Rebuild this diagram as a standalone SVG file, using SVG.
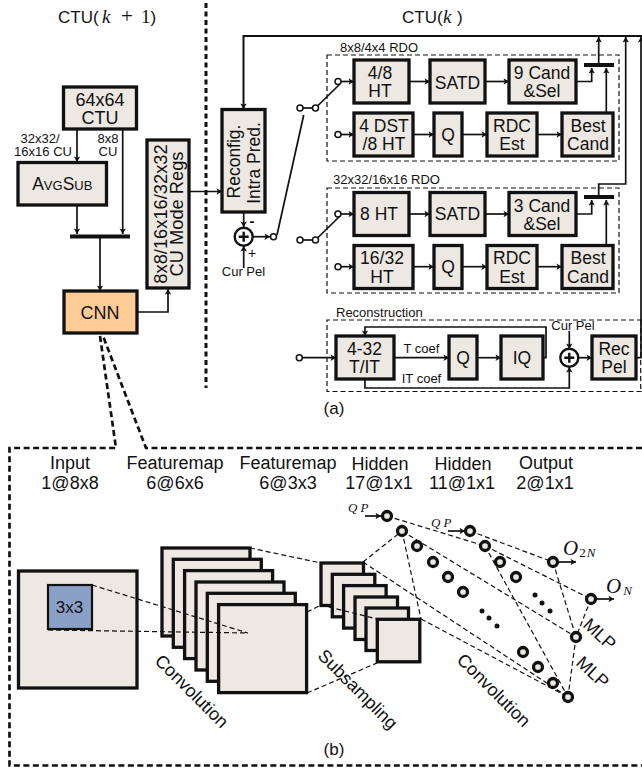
<svg xmlns="http://www.w3.org/2000/svg" width="642" height="770" viewBox="0 0 642 770">
<style>
text{font-family:"Liberation Sans",Arial,sans-serif;fill:#111;text-anchor:middle}
.b{fill:#ede8e1;stroke:#111;stroke-width:3.300}
.t{font-size:17.500px}
.h{font-size:18px}
.s{font-size:13px}
.m{font-family:"Liberation Serif","Times New Roman",serif;font-style:italic}
.r{font-family:"Liberation Serif","Times New Roman",serif}
.l{fill:none;stroke:#111;stroke-width:1.700}
.a{marker-end:url(#ah)}
.bar{fill:#111}
.d{fill:none;stroke:#111;stroke-width:1.200;stroke-dasharray:5 3}
.D{fill:none;stroke:#111;stroke-width:2.700;stroke-dasharray:6 3.500}
.sw{fill:#fff;stroke:#111;stroke-width:1.500}
.n{fill:#ede8e1;stroke:#111;stroke-width:3.300}
.k{fill:#111}
</style>
<defs>
<marker id="ah" markerUnits="userSpaceOnUse" markerWidth="8" markerHeight="8" refX="6" refY="4" orient="auto"><path d="M0.500 0.800L6 4L0.500 7.200L1.800 4Z" fill="#111"/></marker>
</defs>
<rect width="642" height="770" fill="#fff"/>

<g id="labels">
<text y="23" style="text-anchor:start;font-size:17px"><tspan x="58">CTU(</tspan><tspan class="m" x="102" style="font-size:19px">k</tspan><tspan class="r" x="121" style="font-size:21px">+</tspan><tspan class="r" x="141" style="font-size:19px">1</tspan><tspan x="150.500">)</tspan></text>
<text y="23" style="text-anchor:start;font-size:17px"><tspan x="402">CTU(</tspan><tspan class="m" x="443" style="font-size:19px">k</tspan><tspan x="457">)</tspan></text>
<text x="340" y="52" class="s" style="text-anchor:start">8x8/4x4 RDO</text>
<text x="333" y="184" class="s" style="text-anchor:start">32x32/16x16 RDO</text>
<text x="336" y="317" class="s" style="text-anchor:start">Reconstruction</text>
<text x="40" y="143" class="s">32x32/</text>
<text x="43" y="156" class="s">16x16 CU</text>
<text x="108" y="143" class="s">8x8</text>
<text x="108" y="156" class="s">CU</text>
<text x="243.500" y="276" class="s">Cur Pel</text>
<text x="252" y="258" style="font-size:14px">+</text>
<text x="252" y="226" style="font-size:15px;font-weight:bold">-</text>
<text x="573" y="330" class="s">Cur Pel</text>
<text x="421.500" y="353" class="s">T coef</text>
<text x="421.500" y="383" class="s">IT coef</text>
<text x="334" y="414" style="font-size:17px">(a)</text>
<text x="334" y="755" style="font-size:17px">(b)</text>
<text x="70" y="469" class="h">Input</text><text x="70" y="489" class="h">1@8x8</text>
<text x="175" y="469" class="h">Featuremap</text><text x="175" y="489" class="h">6@6x6</text>
<text x="288" y="469" class="h">Featuremap</text><text x="288" y="489" class="h">6@3x3</text>
<text x="380" y="470" class="h">Hidden</text><text x="379" y="489" class="h">17@1x1</text>
<text x="463" y="470" class="h">Hidden</text><text x="462" y="489" class="h">11@1x1</text>
<text x="546" y="469" class="h">Output</text><text x="545" y="489" class="h">2@1x1</text>
<text transform="translate(191,692) rotate(45)" y="5" class="h">Convolution</text>
<text transform="translate(357,690) rotate(45)" y="5" class="h">Subsampling</text>
<text transform="translate(493,691) rotate(45)" y="5" class="h">Convolution</text>
<text transform="translate(599,635) rotate(43)" y="5" class="h">MLP</text>
<text transform="translate(592,673) rotate(43)" y="5" class="h">MLP</text>
<text x="348" y="512" class="m" style="text-anchor:start;font-size:13px;letter-spacing:3px">QP</text>
<text x="431" y="527" class="m" style="text-anchor:start;font-size:13px;letter-spacing:3px">QP</text>
<text x="563" y="555" class="m" style="text-anchor:start;font-size:21px">O<tspan dx="1" dy="2" style="font-size:13px;letter-spacing:1px"><tspan class="r" style="font-style:normal">2</tspan>N</tspan></text>
<text x="606" y="593" class="m" style="text-anchor:start;font-size:21px">O<tspan dx="2" dy="2" style="font-size:13px">N</tspan></text>
</g>

<g id="region-borders">
<path class="D" style="stroke-dasharray:5 3.500;stroke-width:3" d="M206 3V388"/>
<path class="D" d="M100 336L116 448H9.500V765.500H642M642 448H146L103 336"/>
<rect class="d" x="327" y="55" width="292" height="106"/>
<rect class="d" x="327" y="188" width="292" height="105"/>
<path class="d" d="M642 320H327V391.500H642"/>
<path class="d" d="M640.700 320V391.500"/>
</g>

<g id="connectors">
<path class="l a" d="M77 129V162"/>
<path class="l a" d="M122.700 129V234"/>
<path class="l a" d="M77 205V234"/>
<path class="l a" d="M100 238V291"/>
<path class="l a" d="M137 312H168V289"/>
<path class="l a" d="M189 191.500H222"/>
<path class="l a" style="stroke-width:2" d="M642 36H243.500V109"/>
<path class="l a" d="M243.700 212V227"/>
<path class="l a" d="M243.700 268V246"/>
<path class="l a" d="M253 236.700H270"/>
<path class="l" d="M277 235L303.700 115"/>
<path class="l" d="M303 108H313"/>
<path class="l" d="M317.500 106L340 84"/>
<path class="l" d="M303 240H313"/>
<path class="l" d="M317.500 238L340 216"/>
<path class="l a" d="M341 81.500H354"/>
<path class="l a" d="M341 134.500H354"/>
<path class="l a" d="M341 214H354"/>
<path class="l a" d="M341 266.700H354"/>
<path class="l a" d="M409 81.500H430"/>
<path class="l a" d="M485 81.500H509"/>
<path class="l a" d="M576 81.500H591.700V68"/>
<path class="l a" d="M606.300 113V68"/>
<path class="l a" d="M598.700 65V37"/>
<path class="l a" d="M413 134.500H434"/>
<path class="l a" d="M462 134.500H487"/>
<path class="l a" d="M537 134.500H562"/>
<path class="l a" d="M409 214H430"/>
<path class="l a" d="M485 214H509"/>
<path class="l a" d="M576 214H591.700V200"/>
<path class="l a" d="M606.300 245V200"/>
<path class="l a" d="M598.700 197V184H625.700V37"/>
<path class="l a" d="M409 266.700H434"/>
<path class="l a" d="M462 266.700H487"/>
<path class="l a" d="M537 266.700H562"/>
<path class="l a" d="M302.500 357.700H336"/>
<path class="l a" d="M394 357.700H449"/>
<path class="l a" d="M477 357.700H501"/>
<path class="l a" d="M543 357.700H546V327H365V336"/>
<path class="l a" d="M365 379V388H569.300V367"/>
<path class="l a" d="M569.300 331V349"/>
<path class="l a" d="M578.500 357.700H592"/>
<path class="l a" d="M636 357.700H641V37"/>
<path class="l a" d="M365 516H381"/>
<path class="l a" d="M448 531H465"/>
<path class="l a" d="M556 562H576"/>
<path class="l a" d="M594 599H614"/>
</g>

<g id="bars">
<rect class="bar" x="70" y="234.500" width="60" height="4"/>
<rect class="bar" x="584" y="63" width="30" height="4"/>
<rect class="bar" x="584" y="195" width="30" height="4"/>
</g>

<g id="ctu"><rect class="b" x="63.500" y="87" width="73" height="42"/><text class="h" x="100" y="105.500">64x64</text><text class="h" x="100" y="123.500">CTU</text></g>
<g id="avgsub"><rect class="b" x="18" y="162.500" width="88.500" height="42.500"/><text x="62.300" y="190" style="font-size:17.500px">A<tspan style="font-size:13px">VG</tspan>S<tspan style="font-size:13px">UB</tspan></text></g>
<g id="cnn"><rect class="b" style="fill:#fdcc96" x="64" y="291" width="73" height="42"/><text class="h" x="100" y="318.500">CNN</text></g>
<g id="mode-regs"><rect class="b" x="147" y="140" width="42" height="148"/><text transform="translate(166.500,214) rotate(-90)" style="font-size:18.300px">8x8/16x16/32x32</text><text transform="translate(183,214) rotate(-90)" style="font-size:18.300px">CU Mode Regs</text></g>
<g id="reconfig"><rect class="b" x="222" y="109.500" width="43" height="102.500"/><text class="t" transform="translate(239.500,161.500) rotate(-90)">Reconfig.</text><text class="t" transform="translate(260,163) rotate(-90)">Intra Pred.</text></g>
<g id="sum1"><circle cx="243.700" cy="236.700" r="9" fill="#fff" stroke="#111" stroke-width="2.400"/><path d="M238.700 236.700H248.700M243.700 231.700V241.700" stroke="#111" stroke-width="2.400"/></g>
<g id="sw1"><circle class="sw" cx="273.500" cy="236.700" r="3"/><circle class="sw" cx="300" cy="108" r="3"/><circle class="sw" cx="315.500" cy="108" r="3"/><circle class="sw" cx="338" cy="81.500" r="3"/><circle class="sw" cx="338" cy="134.500" r="3"/></g>
<g id="sw2"><circle class="sw" cx="300" cy="240" r="3"/><circle class="sw" cx="315.500" cy="240" r="3"/><circle class="sw" cx="338" cy="214" r="3"/><circle class="sw" cx="338" cy="266.700" r="3"/><circle class="sw" cx="299.300" cy="357.700" r="3"/></g>

<g id="ht48"><rect class="b" x="354" y="60" width="55" height="43"/><text class="t" x="380" y="79">4/8</text><text class="t" x="380" y="97">HT</text></g>
<g id="satd1"><rect class="b" x="430" y="60" width="55" height="43"/><text class="t" x="457.500" y="88.500">SATD</text></g>
<g id="cand9"><rect class="b" x="509" y="60" width="67" height="43"/><text class="t" x="542" y="79">9 Cand</text><text class="t" x="542" y="97">&amp;Sel</text></g>
<g id="dst"><rect class="b" x="354" y="113" width="59" height="43"/><text class="t" x="384" y="132">4 DST</text><text class="t" x="384" y="150">/8 HT</text></g>
<g id="q1"><rect class="b" x="434" y="113" width="28" height="43"/><text class="t" x="448" y="141">Q</text></g>
<g id="rdc1"><rect class="b" x="487" y="113" width="50" height="43"/><text class="t" x="512" y="132">RDC</text><text class="t" x="512" y="150">Est</text></g>
<g id="best1"><rect class="b" x="562" y="113" width="51" height="43"/><text class="t" x="588" y="132">Best</text><text class="t" x="588" y="150">Cand</text></g>

<g id="ht8"><rect class="b" x="354" y="192.500" width="55" height="43"/><text class="t" x="379" y="220">8 HT</text></g>
<g id="satd2"><rect class="b" x="430" y="192.500" width="55" height="43"/><text class="t" x="457.500" y="220">SATD</text></g>
<g id="cand3"><rect class="b" x="509" y="192.500" width="67" height="43"/><text class="t" x="542" y="212">3 Cand</text><text class="t" x="542" y="230">&amp;Sel</text></g>
<g id="ht1632"><rect class="b" x="354" y="245.500" width="59" height="43"/><text class="t" x="382" y="264">16/32</text><text class="t" x="382" y="282.500">HT</text></g>
<g id="q2"><rect class="b" x="434" y="245.500" width="28" height="43"/><text class="t" x="448" y="273">Q</text></g>
<g id="rdc2"><rect class="b" x="487" y="245.500" width="50" height="43"/><text class="t" x="512" y="264">RDC</text><text class="t" x="512" y="282.500">Est</text></g>
<g id="best2"><rect class="b" x="562" y="245.500" width="51" height="43"/><text class="t" x="588" y="264">Best</text><text class="t" x="588" y="282.500">Cand</text></g>

<g id="tit"><rect class="b" x="336" y="336" width="58" height="43"/><text class="t" x="364.500" y="354.500">4-32</text><text class="t" x="364.500" y="372.500">T/IT</text></g>
<g id="q3"><rect class="b" x="449" y="336" width="28" height="43"/><text class="t" x="463" y="364">Q</text></g>
<g id="iq"><rect class="b" x="501" y="336" width="42" height="43"/><text class="t" x="522" y="364">IQ</text></g>
<g id="sum2"><circle cx="569.300" cy="357.700" r="9" fill="#fff" stroke="#111" stroke-width="2.400"/><path d="M564.300 357.700H574.300M569.300 352.700V362.700" stroke="#111" stroke-width="2.400"/></g>
<g id="recpel"><rect class="b" x="592" y="336" width="44" height="43"/><text class="t" x="614" y="354.500">Rec</text><text class="t" x="614" y="372.500">Pel</text></g>

<g id="input"><rect class="b" x="18.500" y="571" width="118.500" height="117"/><rect x="48" y="585" width="44" height="44" fill="#8aa0c7" stroke="#111" stroke-width="2.200"/><text x="69.500" y="613" style="font-size:17px">3x3</text></g>
<g id="featuremap1">
<rect class="b" x="162" y="548" width="88" height="88"/>
<rect class="b" x="173.300" y="559.300" width="88" height="88"/>
<rect class="b" x="184.600" y="570.600" width="88" height="88"/>
<rect class="b" x="196" y="582" width="88" height="88"/>
<rect class="b" x="207.300" y="593.300" width="88" height="88"/>
<rect class="b" x="218.600" y="604.600" width="88" height="88"/>
</g>
<g id="featuremap2">
<rect class="b" x="321" y="563" width="42.500" height="42.500"/>
<rect class="b" x="332.300" y="574.300" width="42.500" height="42.500"/>
<rect class="b" x="343.600" y="585.600" width="42.500" height="42.500"/>
<rect class="b" x="355" y="597" width="42.500" height="42.500"/>
<rect class="b" x="366" y="608" width="42.500" height="42.500"/>
<rect class="b" x="377.300" y="619.300" width="42.500" height="42.500"/>
</g>

<g id="cnn-dashes">
<path class="d" d="M92 585L248 633M48 630L248 633"/>
<path class="d" d="M250 548L321 563M307 612L321 605M307 693L377 663"/>
<path class="d" d="M321 605L377 619"/>
<path class="d" d="M363 562L402 531M402 531L421 619M402 531L576 637M363 562L568 697M421 619L568 697"/>
<path class="d" d="M387 516L485 546M470 531L553 562M485 546L591 599M485 546L568 697M553 562L576 637M591 599L576 637M576 637L568 697"/>
</g>

<g id="neurons">
<circle class="n" cx="387" cy="516" r="4.500"/><circle class="n" cx="402" cy="531" r="4.500"/><circle class="n" cx="417" cy="546" r="4.500"/><circle class="n" cx="433" cy="562" r="4.500"/><circle class="n" cx="448" cy="577" r="4.500"/><circle class="n" cx="463" cy="592" r="4.500"/>
<circle class="n" cx="523" cy="652" r="4.500"/><circle class="n" cx="538" cy="667" r="4.500"/><circle class="n" cx="553" cy="683" r="4.500"/><circle class="n" cx="568" cy="697" r="4.500"/>
<circle class="n" cx="470" cy="531" r="4.500"/><circle class="n" cx="485" cy="546" r="4.500"/><circle class="n" cx="500" cy="562" r="4.500"/><circle class="n" cx="516" cy="577" r="4.500"/><circle class="n" cx="576" cy="637" r="4.500"/>
<circle class="n" cx="553" cy="562" r="4.500"/><circle class="n" cx="591" cy="599" r="4.500"/>
<circle class="k" cx="482" cy="611" r="2.500"/><circle class="k" cx="489" cy="618" r="2.500"/><circle class="k" cx="497" cy="626" r="2.500"/>
<circle class="k" cx="535" cy="595" r="2.500"/><circle class="k" cx="542" cy="603" r="2.500"/><circle class="k" cx="550" cy="611" r="2.500"/>
</g>
</svg>
